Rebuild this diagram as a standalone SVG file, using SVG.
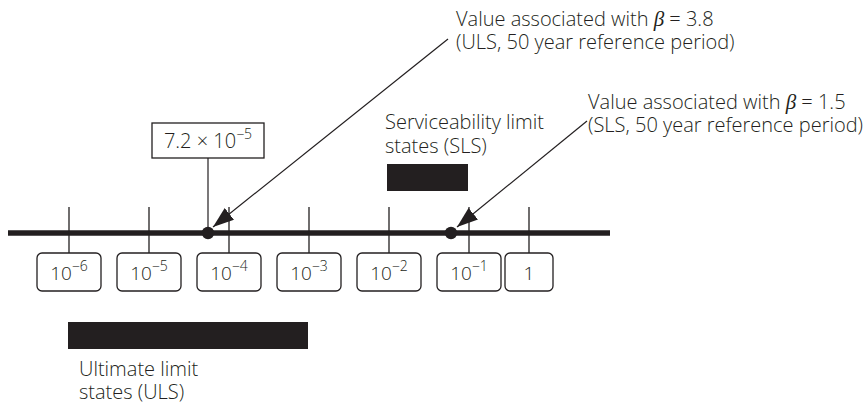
<svg xmlns="http://www.w3.org/2000/svg" width="866" height="404" viewBox="0 0 866 404">
<style>
  text { font-family: "Open Sans", "Noto Sans", "DejaVu Sans", sans-serif; font-size: 20px; font-weight: 300; fill: #231f20; }
  .num { font-size: 19px; }
  .sup { font-size: 14px; }
  .beta { font-family: "Liberation Serif", serif; font-style: italic; font-size: 21px; font-weight: normal; }
  .box { fill: #ffffff; stroke: #231f20; stroke-width: 1.3; }
  .tick { stroke: #231f20; stroke-width: 1.3; fill: none; }
  .bar { fill: #231f20; }
  .conn { stroke: #231f20; stroke-width: 1.2; fill: none; }
  .axis { stroke: #231f20; stroke-width: 5.5; fill: none; }
  .mid { text-anchor: middle; }
</style>
<defs>
  <marker id="arrow" markerUnits="userSpaceOnUse" markerWidth="22" markerHeight="16" refX="21" refY="7.5" orient="auto">
    <path d="M0,0 L21,7.5 L0,15 z" fill="#231f20"/>
  </marker>
</defs>
<rect width="866" height="404" fill="#ffffff"/>

<g id="axis">
  <line class="axis" x1="8" y1="233" x2="610" y2="233"/>
  <line class="tick" x1="69" y1="207" x2="69" y2="253"/>
  <line class="tick" x1="149" y1="207" x2="149" y2="253"/>
  <line class="tick" x1="229" y1="207" x2="229" y2="253"/>
  <line class="tick" x1="309" y1="207" x2="309" y2="253"/>
  <line class="tick" x1="389" y1="207" x2="389" y2="253"/>
  <line class="tick" x1="469" y1="207" x2="469" y2="253"/>
  <line class="tick" x1="529" y1="207" x2="529" y2="253"/>
</g>

<g id="label-1e-6">
  <rect class="box" x="37" y="253" width="64" height="38" rx="5"/>
  <text class="mid num" x="69" y="280">10<tspan class="sup" dy="-9">−6</tspan></text>
</g>
<g id="label-1e-5">
  <rect class="box" x="117" y="253" width="64" height="38" rx="5"/>
  <text class="mid num" x="149" y="280">10<tspan class="sup" dy="-9">−5</tspan></text>
</g>
<g id="label-1e-4">
  <rect class="box" x="197" y="253" width="64" height="38" rx="5"/>
  <text class="mid num" x="229" y="280">10<tspan class="sup" dy="-9">−4</tspan></text>
</g>
<g id="label-1e-3">
  <rect class="box" x="277" y="253" width="64" height="38" rx="5"/>
  <text class="mid num" x="309" y="280">10<tspan class="sup" dy="-9">−3</tspan></text>
</g>
<g id="label-1e-2">
  <rect class="box" x="357" y="253" width="64" height="38" rx="5"/>
  <text class="mid num" x="389" y="280">10<tspan class="sup" dy="-9">−2</tspan></text>
</g>
<g id="label-1e-1">
  <rect class="box" x="437" y="253" width="64" height="38" rx="5"/>
  <text class="mid num" x="469" y="280">10<tspan class="sup" dy="-9">−1</tspan></text>
</g>
<g id="label-1">
  <rect class="box" x="505" y="253" width="48" height="38" rx="5"/>
  <text class="mid num" x="529" y="280">1</text>
</g>

<g id="value-box">
  <rect class="box" x="152" y="123" width="112" height="35"/>
  <text class="mid" x="208" y="148">7.2 × 10<tspan class="sup" dy="-9">−5</tspan></text>
</g>

<g id="uls-point">
  <circle cx="208" cy="233" r="6.2" fill="#231f20"/>
</g>
<g id="sls-point">
  <circle cx="451" cy="233" r="6.2" fill="#231f20"/>
</g>

<g id="sls-bar">
  <rect class="bar" x="387" y="164" width="81" height="27"/>
  <text x="385" y="129">Serviceability limit<tspan x="385" y="153">states (SLS)</tspan></text>
</g>

<g id="uls-bar">
  <rect class="bar" x="68" y="322" width="240" height="27"/>
  <text x="79" y="376">Ultimate limit<tspan x="79" y="399">states (ULS)</tspan></text>
</g>

<g id="uls-note">
  <text x="456" y="26">Value associated with <tspan class="beta">β</tspan> = 3.8<tspan x="456" y="49">(ULS, 50 year reference period)</tspan></text>
</g>

<g id="sls-note">
  <text x="588" y="109">Value associated with <tspan class="beta">β</tspan> = 1.5<tspan x="588" y="132">(SLS, 50 year reference period)</tspan></text>
</g>

<g id="connectors">
  <line class="conn" x1="208" y1="158" x2="208" y2="233"/>
  <line class="conn" x1="448" y1="39" x2="213" y2="227" marker-end="url(#arrow)"/>
  <line class="conn" x1="587" y1="121" x2="457" y2="227" marker-end="url(#arrow)"/>
</g>
</svg>
